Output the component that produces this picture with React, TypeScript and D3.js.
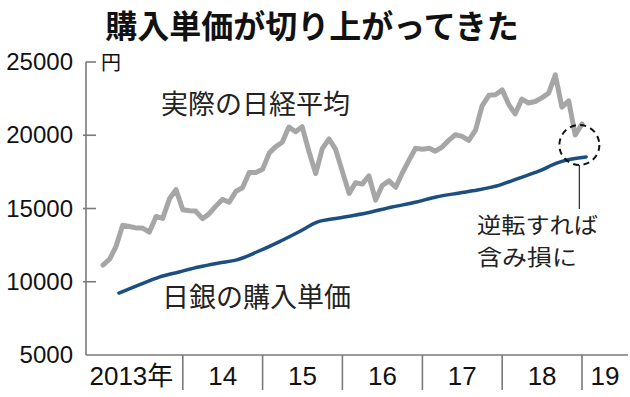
import React from "react";
import * as d3 from "d3";

// 日経平均（月末値）2013年1月〜2019年1月
const nikkeiStart = "2013-01";
const nikkeiValues: number[] = [
  11138, 11559, 12397, 13860, 13774, 13677, 13668, 13388, 14455, 14327, 15661, 16291,
  14914, 14841, 14827, 14304, 14632, 15162, 15620, 15424, 16173, 16413, 17459, 17450,
  17674, 18797, 19206, 19520, 20563, 20235, 20585, 18890, 17388, 19083, 19747, 19033,
  17518, 16026, 16758, 16666, 17234, 15575, 16569, 16887, 16449, 17425, 18308, 19114,
  19041, 19118, 18909, 19196, 19650, 20033, 19925, 19646, 20356, 22011, 22724, 22764,
  23098, 22068, 21454, 22467, 22201, 22304, 22553, 22865, 24120, 21920, 22351, 20014,
  20773,
];

// 日銀の購入単価（推定）
const bojDates: string[] = [
  "2013-03-15", "2013-06-15", "2013-09-15", "2013-12-15",
  "2014-03-15", "2014-06-15", "2014-09-05", "2014-12-05",
  "2015-03-15", "2015-06-15", "2015-09-10", "2015-12-15",
  "2016-04-20", "2016-08-15", "2016-12-05", "2017-03-05",
  "2017-06-20", "2017-09-10", "2017-12-20", "2018-03-20",
  "2018-06-20", "2018-09-10", "2018-10-25", "2019-01-20",
];
const bojValues: number[] = [
  9230, 9780, 10320, 10670,
  11010, 11280, 11490, 12030,
  12710, 13400, 14080, 14350,
  14690, 15100, 15440, 15790,
  16060, 16260, 16600, 17080,
  17560, 18110, 18310, 18520,
];

const yTicks: number[] = [5000, 10000, 15000, 20000, 25000];
const yearLabels: string[] = ["2013年", "14", "15", "16", "17", "18", "19"];
const yearStarts: number[] = [2013, 2014, 2015, 2016, 2017, 2018, 2019];

const W = 630;
const H = 397;
const axisX = 86;
const axisRight = 628;
const axisBottom = 355;

export default function App() {
  const x = d3
    .scaleTime()
    .domain([new Date(2013, 0, 1), new Date(2019, 0, 1)])
    .range([103, 582]);
  const y = d3.scaleLinear().domain([5000, 25000]).range([axisBottom, 62]);

  const parse = d3.timeParse("%Y-%m");
  const parseDay = d3.timeParse("%Y-%m-%d");
  const start = parse(nikkeiStart)!;
  const nikkei = nikkeiValues.map((v, i) => ({ d: d3.timeMonth.offset(start, i), v }));
  const boj = bojDates.map((s, i) => ({ d: parseDay(s)!, v: bojValues[i] }));

  const line = d3
    .line<{ d: Date; v: number }>()
    .x((p) => x(p.d))
    .y((p) => y(p.v));
  const smooth = d3
    .line<{ d: Date; v: number }>()
    .x((p) => x(p.d))
    .y((p) => y(p.v))
    .curve(d3.curveMonotoneX);

  const seps = yearStarts.slice(1).map((yr) => x(new Date(yr, 0, 1)));
  const bounds = [axisX, ...seps, axisRight];

  // dashed circle around the latest crossing point
  const cx = x(new Date(2018, 11, 20));
  const cy = 145;

  const font = "'Liberation Sans', Arial, sans-serif";
  const jp = "'Noto Sans CJK JP', sans-serif";

  return (
    <svg
      width={W}
      height={H}
      style={{ position: "absolute", left: 0, top: 0, background: "#fff" }}
    >
      <rect width={W} height={H} fill="#fff" />
      <text x={312} y={38} textAnchor="middle" fontFamily={jp} fontWeight="bold" fontSize={32} fill="#111">
        購入単価が切り上がってきた
      </text>

      {/* y axis */}
      <line x1={axisX} x2={axisX} y1={y(25000)} y2={axisBottom} stroke="#7a7a7a" strokeWidth={1.6} />
      {yTicks.map((t) => (
        <g key={t}>
          {t !== 5000 && (
            <line
              x1={t === 25000 ? axisX : axisX - 3}
              x2={96}
              y1={y(t)}
              y2={y(t)}
              stroke="#7a7a7a"
              strokeWidth={1.6}
            />
          )}
          <text x={73} y={y(t) + 8} textAnchor="end" fontFamily={font} fontSize={24} fill="#111">
            {t}
          </text>
        </g>
      ))}
      <text x={101} y={70} fontFamily={jp} fontSize={20} fill="#111">
        円
      </text>

      {/* x axis */}
      <line x1={axisX} x2={axisRight} y1={axisBottom} y2={axisBottom} stroke="#7a7a7a" strokeWidth={1.6} />
      {seps.map((sx, i) => (
        <line key={i} x1={sx} x2={sx} y1={axisBottom} y2={390} stroke="#7a7a7a" strokeWidth={1.6} />
      ))}
      {yearLabels.map((lab, i) => {
        const mid = (bounds[i] + bounds[i + 1]) / 2;
        const isFirst = i === 0;
        return (
          <text
            key={lab}
            x={isFirst ? mid - 3 : mid}
            y={385}
            textAnchor="middle"
            fontFamily={isFirst ? `'Liberation Sans', ${jp}` : font}
            fontSize={26}
            fill="#111"
          >
            {lab}
          </text>
        );
      })}

      {/* lines */}
      <path d={line(nikkei) ?? ""} fill="none" stroke="#a6a6a6" strokeWidth={5} strokeLinejoin="round" strokeLinecap="round" />
      <path d={smooth(boj) ?? ""} fill="none" stroke="#1c4f80" strokeWidth={3.5} strokeLinecap="round" />

      {/* labels */}
      <text x={161} y={114} fontFamily={jp} fontSize={27} fill="#222">
        実際の日経平均
      </text>
      <text x={162} y={307} fontFamily={jp} fontSize={27} fill="#222">
        日銀の購入単価
      </text>

      {/* annotation */}
      <circle cx={cx} cy={cy} r={20} fill="none" stroke="#111" strokeWidth={2} strokeDasharray="6,4.5" />
      <line x1={cx} x2={cx} y1={cy + 20} y2={209} stroke="#333" strokeWidth={1.3} />
      <text x={477} y={233} fontFamily={jp} fontSize={22} fill="#222" textLength={121} lengthAdjust="spacingAndGlyphs">
        逆転すれば
      </text>
      <text x={477} y={265} fontFamily={jp} fontSize={22} fill="#222" textLength={100} lengthAdjust="spacingAndGlyphs">
        含み損に
      </text>
    </svg>
  );
}
